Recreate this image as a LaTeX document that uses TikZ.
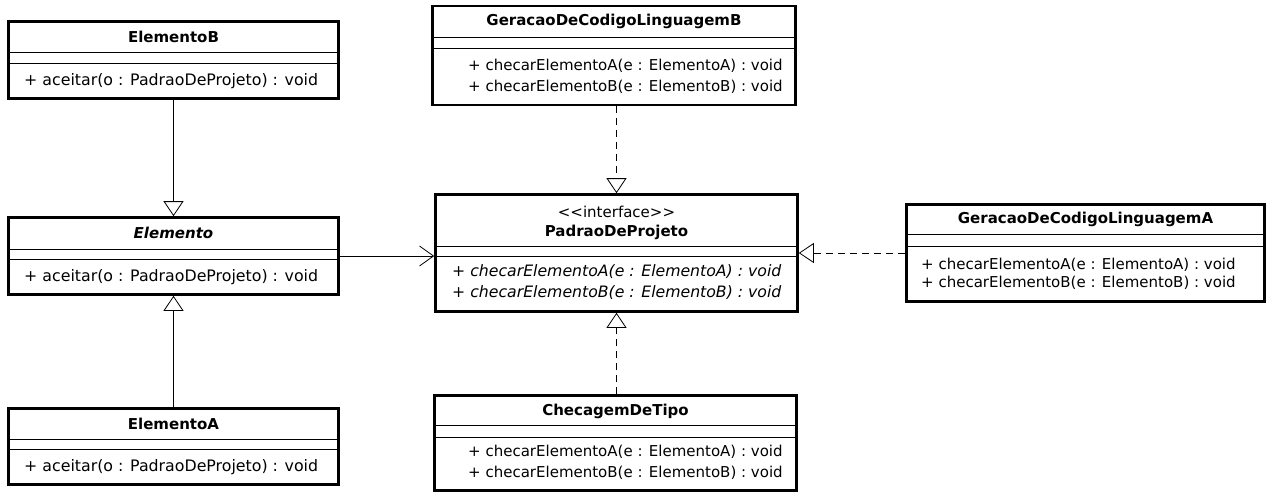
\documentclass[tikz,border=0pt]{standalone}
\usepackage{fontspec}
\setmainfont{DejaVu Sans}
\usetikzlibrary{arrows.meta}
\begin{document}
\begin{tikzpicture}[x=1pt,y=-1pt,
 cls/.style={draw, line width=2.6pt, inner sep=0pt, rectangle},
 sepline/.style={line width=0.8pt},
 txt/.style={inner sep=0pt, font=\fontsize{15}{17}\selectfont},
 meth/.style={txt, anchor=west},
 acc/.style={meth, font=\fontsize{15.8}{18}\selectfont},
 ttl/.style={inner sep=0pt, font=\fontsize{15}{17}\selectfont\bfseries},
 itmeth/.style={meth, font=\fontsize{15.7}{18}\selectfont\itshape},
 gen/.style={line width=0.8pt, -{Triangle[open,length=15pt,width=20pt,line width=0.8pt]}},
 real/.style={gen, dash pattern=on 7pt off 5pt},
 assoc/.style={line width=0.8pt, -{Straight Barb[length=14pt,width=20pt,line width=0.8pt]}}]
\useasboundingbox (0,0) rectangle (1272,491);

% ElementoB
\node[cls, minimum width=330pt, minimum height=77pt] (eB) at (173.5,60) {};
\draw[sepline] (8,52) -- (339,52) (8,63) -- (339,63);
\node[ttl] (eBt) at (173.5,37) {ElementoB};
\node[acc] (eBm) at (24,81) {+ aceitar(o : PadraoDeProjeto) : void};

% Elemento
\node[cls, minimum width=330pt, minimum height=77pt] (el) at (173.5,256) {};
\draw[sepline] (8,249) -- (339,249) (8,259) -- (339,259);
\node[ttl, font=\fontsize{15}{17}\selectfont\bfseries\itshape] (elt) at (173.5,233) {Elemento};
\node[acc] (elm) at (24,277) {+ aceitar(o : PadraoDeProjeto) : void};

% ElementoA
\node[cls, minimum width=330pt, minimum height=76pt] (eA) at (173.5,446.5) {};
\draw[sepline] (8,439) -- (339,439) (8,449) -- (339,449);
\node[ttl] (eAt) at (173.5,424) {ElementoA};
\node[acc] (eAm) at (24,467) {+ aceitar(o : PadraoDeProjeto) : void};

% GeracaoDeCodigoLinguagemB
\node[cls, minimum width=363pt, minimum height=99pt] (gB) at (614,55.5) {};
\draw[sepline] (432,37) -- (796,37) (432,48) -- (796,48);
\node[ttl] (gBt) at (614,21) {GeracaoDeCodigoLinguagemB};
\node[meth] (gBm1) at (468,66) {+ checarElementoA(e : ElementoA) : void};
\node[meth] (gBm2) at (468,87) {+ checarElementoB(e : ElementoB) : void};

% PadraoDeProjeto
\node[cls, minimum width=362pt, minimum height=117pt] (pp) at (616.5,253) {};
\draw[sepline] (435,246) -- (798,246) (435,256) -- (798,256);
\node[txt] (pps) at (616.5,212) {<\kern0pt<interface>\kern0pt>};
\node[ttl] (ppt) at (616.5,232) {PadraoDeProjeto};
\node[itmeth] (ppm1) at (452,272) {+ checarElementoA(e : ElementoA) : void};
\node[itmeth] (ppm2) at (452,293) {+ checarElementoB(e : ElementoB) : void};

% ChecagemDeTipo
\node[cls, minimum width=362pt, minimum height=95pt] (ct) at (615.5,443) {};
\draw[sepline] (434,425) -- (797,425) (434,437) -- (797,437);
\node[ttl] (ctt) at (615.5,411) {ChecagemDeTipo};
\node[meth] (ctm1) at (468,452) {+ checarElementoA(e : ElementoA) : void};
\node[meth] (ctm2) at (468,473) {+ checarElementoB(e : ElementoB) : void};

% GeracaoDeCodigoLinguagemA
\node[cls, minimum width=358pt, minimum height=97pt] (gA) at (1085.5,253) {};
\draw[sepline] (906,234) -- (1265,234) (906,246) -- (1265,246);
\node[ttl] (gAt) at (1085.5,219) {GeracaoDeCodigoLinguagemA};
\node[meth] (gAm1) at (921,265) {+ checarElementoA(e : ElementoA) : void};
\node[meth] (gAm2) at (921,283) {+ checarElementoB(e : ElementoB) : void};

% connectors
\draw[gen] (eB.south) -- (el.north);
\draw[gen] (eA.north) -- (el.south);
\draw[assoc] (el.east) -- (el.east -| pp.west);
\draw[real] (pp.north |- gB.south) -- (pp.north);
\draw[real] (pp.south |- ct.north) -- (pp.south);
\draw[real] (gA.west) -- (pp.east);
\end{tikzpicture}
\end{document}
